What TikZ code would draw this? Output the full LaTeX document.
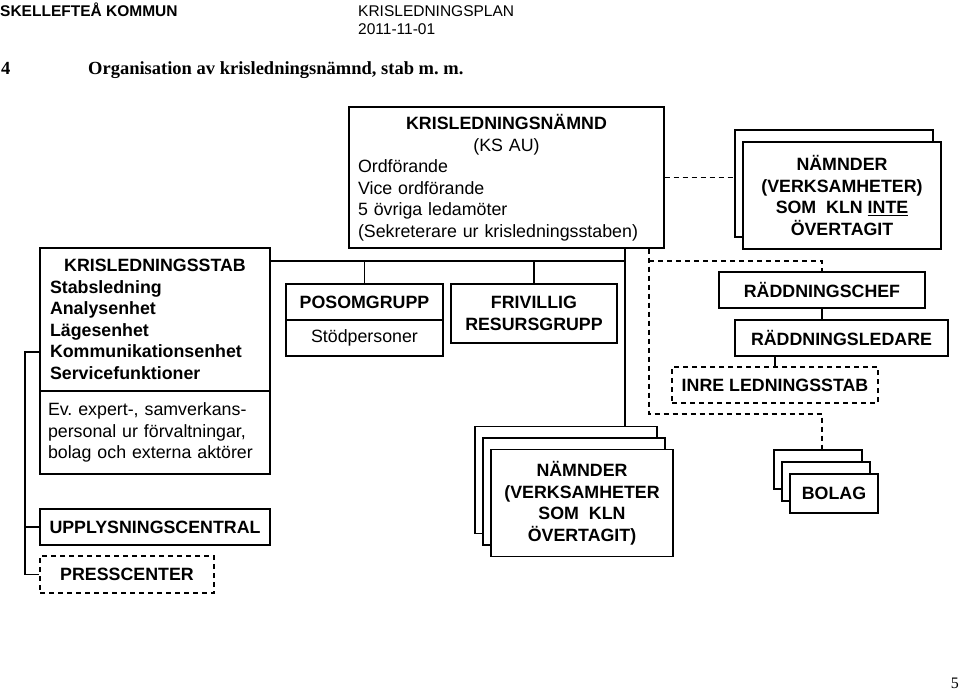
\documentclass[tikz,border=0pt]{standalone}
\usepackage{fontspec}
\setmainfont{Liberation Serif}
\setsansfont{Liberation Sans}
\usepackage{tikz}
\usetikzlibrary{positioning,calc}
\frenchspacing

\begin{document}
\begin{tikzpicture}[x=1pt, y=-1pt,
    box/.style={draw, line width=1.2pt, fill=white, inner sep=0pt, align=center,
        font=\sffamily\fontsize{17.8}{21.5}\selectfont},
    bbox/.style={box, font=\sffamily\bfseries\fontsize{17.8}{21.5}\selectfont},
    conn/.style={line width=1.2pt},
    dashline/.style={line width=1.1pt, dash pattern=on 5pt off 4pt},
    head/.style={inner sep=0pt, font=\sffamily\fontsize{15.5}{18}\selectfont},
    rubrik/.style={inner sep=0pt, font=\rmfamily\bfseries\fontsize{18.5}{22}\selectfont}]
    \useasboundingbox (0,0) rectangle (960,690);

    % Page header
    \node[head, anchor=base west] (kommun) at (0,17) {\bfseries SKELLEFTEÅ KOMMUN};
    \node[head, anchor=base west] (plan) at (358,17) {KRISLEDNINGSPLAN};
    \node[head, anchor=base west] (datum) at (358,35) {2011-11-01};
    \node[rubrik, anchor=base west] (kapnr) at (1,75) {4};
    \node[rubrik, anchor=base west] (kaprubrik) at (88,75) {Organisation av krisledningsnämnd, stab m. m.};

    % Krisledningsnämnd
    \node[box, text width=297pt, align=left, inner xsep=9pt, minimum height=141pt] (nand) at (506.5,177.5)
        {\hfil\textbf{KRISLEDNINGSNÄMND}\\\hfil(KS AU)\\Ordförande\\Vice ordförande\\5 övriga ledamöter\\(Sekreterare ur krisledningsstaben)};

    % Nämnder som KLN inte övertagit
    \node[bbox, minimum width=198pt, minimum height=107pt] (nvb1) at (834,183.5) {};
    \node[bbox, minimum width=198pt, minimum height=107pt] (nvb2) at (842,195.5)
        {NÄMNDER\\(VERKSAMHETER)\\SOM~~KLN \underline{INTE}\\ÖVERTAGIT};

    % Krisledningsstab
    \node[bbox, text width=210pt, align=left, inner xsep=10pt, minimum height=143pt] (stabtop) at (155,319.5)
        {\hfil KRISLEDNINGSSTAB\\Stabsledning\\Analysenhet\\Lägesenhet\\Kommunikationsenhet\\Servicefunktioner};
    \node[box, text width=214pt, align=left, inner xsep=8pt, minimum height=83pt] (stabbot) at (155,432.5)
        {Ev. expert-, samverkans-\\personal ur förvaltningar,\\bolag och externa aktörer};
    \node[bbox, minimum width=230pt, minimum height=36pt] (upply) at (155,527) {UPPLYSNINGSCENTRAL};
    \node[bbox, dashline, minimum width=174pt, minimum height=37pt] (press) at (127,574.5) {PRESSCENTER};

    % Grupper
    \node[bbox, minimum width=157pt, minimum height=36pt] (posom) at (364.5,302) {POSOMGRUPP};
    \node[box, minimum width=157pt, minimum height=36pt] (stod) at (364.5,338) {Stödpersoner};
    \node[bbox, minimum width=166pt, minimum height=59pt] (friv) at (534,313.5) {FRIVILLIG\\RESURSGRUPP};

    % Nämnder som KLN övertagit
    \node[bbox, minimum width=182pt, minimum height=107pt] (nk1) at (566,480) {};
    \node[bbox, minimum width=182pt, minimum height=107pt] (nk2) at (574,491.5) {};
    \node[bbox, minimum width=182pt, minimum height=107pt] (nk3) at (582,503)
        {NÄMNDER\\(VERKSAMHETER\\SOM~~KLN\\ÖVERTAGIT)};

    % Räddningstjänst
    \node[bbox, minimum width=206pt, minimum height=36pt] (chef) at (822,290) {RÄDDNINGSCHEF};
    \node[bbox, minimum width=213pt, minimum height=36pt] (ledare) at (841.5,338) {RÄDDNINGSLEDARE};
    \node[bbox, dashline, minimum width=206pt, minimum height=36pt] (inre) at (775,385) {INRE LEDNINGSSTAB};

    % Bolag
    \node[bbox, minimum width=88pt, minimum height=39pt] (bolag1) at (818,469.5) {};
    \node[bbox, minimum width=88pt, minimum height=39pt] (bolag2) at (826,481.5) {};
    \node[bbox, minimum width=88pt, minimum height=39pt] (bolag3) at (834,493.5) {BOLAG};

    % Connectors
    \coordinate (j1) at (625,261);
    \coordinate (b1) at (25,352);
    \coordinate (d1) at (649,261);
    \coordinate (d2) at (649,414);
    \draw[conn] (stabtop.east |- j1) -- (j1);
    \draw[conn] (j1 |- nand.south) -- (j1 |- nk1.north);
    \draw[conn] (posom.north) -- (posom.north |- j1);
    \draw[conn] (friv.north) -- (friv.north |- j1);
    \draw[conn] (stabtop.west |- b1) -- (b1) |- (press.west);
    \draw[conn] (b1 |- upply.west) -- (upply.west);
    \draw[conn] (chef.south) -- (chef.south |- ledare.north);
    \draw[conn] (inre.north) -- (inre.north |- ledare.south);
    \draw[dashline] (nand.east) -- (nand.east -| nvb1.west);
    \draw[dashline] (d1 |- nand.south) -- (d2) -| (bolag1.north -| chef.north);
    \draw[dashline] (d1) -| (chef.north);

    % Page number
    \node[inner sep=0pt, anchor=base east, font=\rmfamily\fontsize{16}{18}\selectfont] (sida) at (959,688) {5};
\end{tikzpicture}
\end{document}
